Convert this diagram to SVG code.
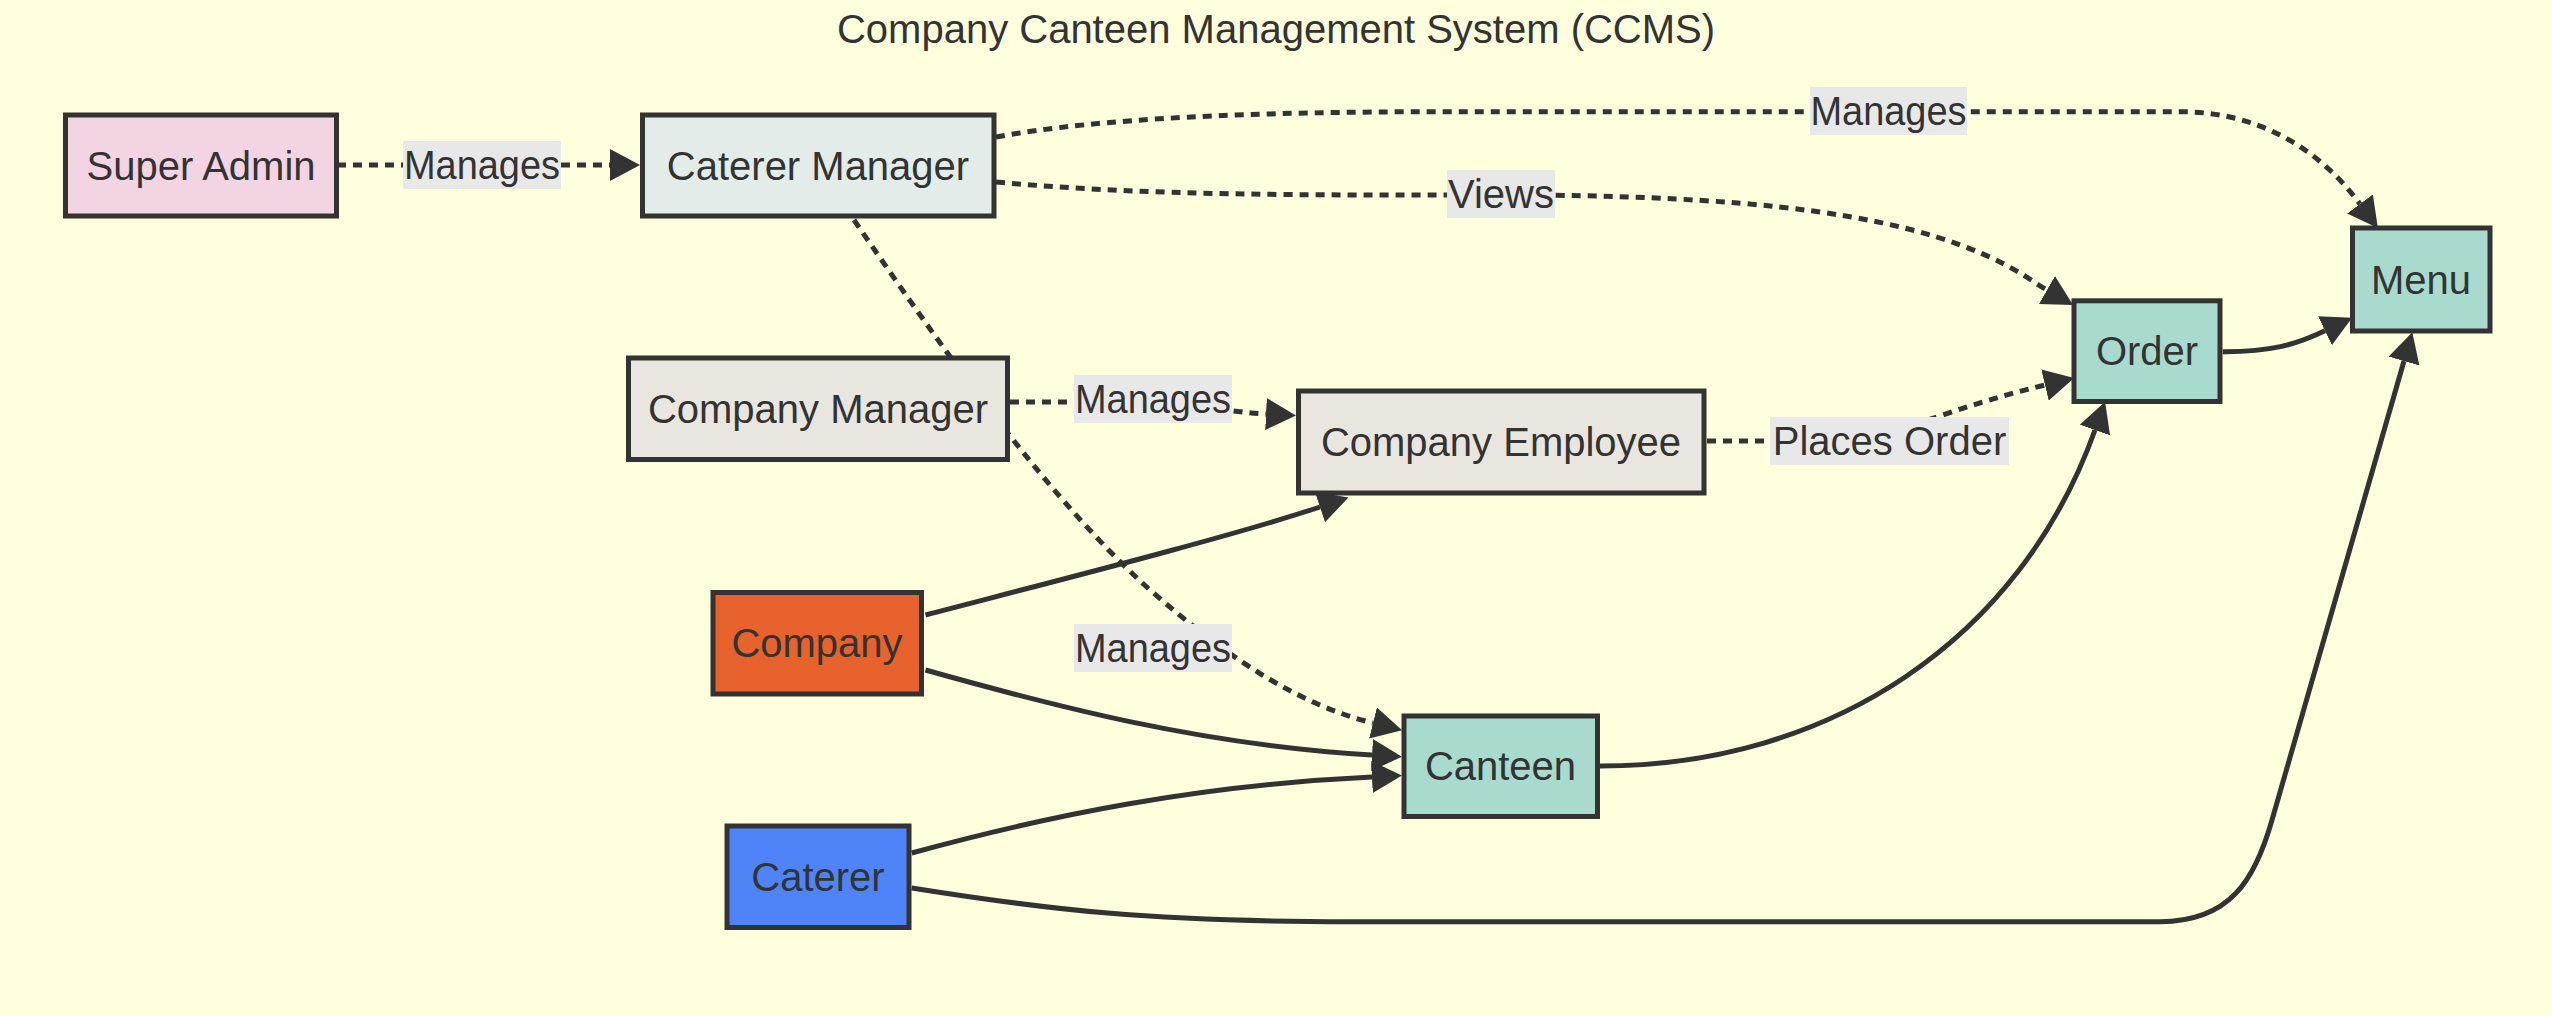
<svg xmlns="http://www.w3.org/2000/svg" width="2552" height="1016" viewBox="0 0 2552 1016">
<style>
  .bg { fill: #FFFFDE; }
  .node rect { stroke: #333333; stroke-width: 5; }
  .node text, .title, .elabel text { font-family: "Liberation Sans", Arial, sans-serif; font-size: 40px; fill: #333333; text-anchor: middle; }
  .edge { fill: none; stroke: #333333; stroke-width: 5; }
  .dotted { stroke-dasharray: 9 7; }
  .elabel rect { fill: #E8E8E8; stroke: none; }
  .arrowhead { fill: #333333; stroke: none; }
</style>
<defs>
  <marker id="arrow" viewBox="0 0 10 10" refX="0" refY="5" markerUnits="userSpaceOnUse" markerWidth="30" markerHeight="32" preserveAspectRatio="none" orient="auto">
    <path class="arrowhead" d="M0,0 L10,5 L0,10 z"/>
  </marker>
</defs>
<rect class="bg" x="0" y="0" width="2552" height="1016"/>
<text class="title" x="1276" y="43">Company Canteen Management System (CCMS)</text>

<g id="connectors">
  <path class="edge dotted" d="M337,165 L610,165" marker-end="url(#arrow)"/>
  <path class="edge dotted" d="M996,137 C1100,118 1250,111.7 1450,111.7 L2180,111.7 C2260,111.7 2320,150 2360,204" marker-end="url(#arrow)"/>
  <path class="edge dotted" d="M996,182 C1150,196 1300,195 1500,195 C1800,195 1950,222 2040,286 L2047,290" marker-end="url(#arrow)"/>
  <path class="edge dotted" d="M854,220 C950,360 1050,500 1150,590 C1230,660 1300,705 1373,723" marker-end="url(#arrow)"/>
  <path class="edge dotted" d="M1010,402 L1120,402 C1190,402 1225,412 1266,414" marker-end="url(#arrow)"/>
  <path class="edge dotted" d="M1707,441 L1830,441 C1890,441 1940,410 2045,385" marker-end="url(#arrow)"/>
  <path class="edge" d="M925.5,615 C1040,585 1230,537 1320,507" marker-end="url(#arrow)"/>
  <path class="edge" d="M925.5,670 C1050,705 1200,745 1372,755" marker-end="url(#arrow)"/>
  <path class="edge" d="M911.7,853 C1050,815 1200,785 1372,777" marker-end="url(#arrow)"/>
  <path class="edge" d="M911.7,888 C1050,910 1150,921.7 1350,921.7 L2160,921.7 C2230,921.7 2255,880 2272,820 L2404,361" marker-end="url(#arrow)"/>
  <path class="edge" d="M1600,766 C1830,766 2020,640 2095,430" marker-end="url(#arrow)"/>
  <path class="edge" d="M2222.7,351.7 C2270,352 2295,345 2325,330.7" marker-end="url(#arrow)"/>
</g>

<g id="edge-labels">
  <g class="elabel"><rect x="403" y="141" width="158" height="48"/><text x="482" y="179" textLength="156" lengthAdjust="spacingAndGlyphs">Manages</text></g>
  <g class="elabel"><rect x="1810" y="87" width="157" height="48"/><text x="1888.5" y="125" textLength="156" lengthAdjust="spacingAndGlyphs">Manages</text></g>
  <g class="elabel"><rect x="1447" y="170" width="108" height="48"/><text x="1501" y="208">Views</text></g>
  <g class="elabel"><rect x="1074" y="375" width="158" height="48"/><text x="1153" y="413" textLength="156" lengthAdjust="spacingAndGlyphs">Manages</text></g>
  <g class="elabel"><rect x="1770" y="417" width="239" height="48"/><text x="1889.5" y="455">Places Order</text></g>
  <g class="elabel"><rect x="1074" y="624" width="158" height="48"/><text x="1153" y="662" textLength="156" lengthAdjust="spacingAndGlyphs">Manages</text></g>
</g>

<g id="node-super-admin" class="node"><rect x="65.5" y="115" width="271" height="101" fill="#F3D4E3"/><text x="201" y="179.5">Super Admin</text></g>
<g id="node-caterer-manager" class="node"><rect x="642.5" y="115" width="351.5" height="101" fill="#E2ECE8"/><text x="818" y="179.5">Caterer Manager</text></g>
<g id="node-company-manager" class="node"><rect x="628.5" y="358" width="379" height="101.5" fill="#E8E6DF"/><text x="818" y="422.5">Company Manager</text></g>
<g id="node-company-employee" class="node"><rect x="1298.5" y="391" width="405.5" height="102" fill="#E8E6DF"/><text x="1501" y="456">Company Employee</text></g>
<g id="node-company" class="node"><rect x="713" y="592.5" width="208.5" height="101.5" fill="#E8622D"/><text x="817" y="657">Company</text></g>
<g id="node-canteen" class="node"><rect x="1404" y="716" width="193.5" height="100.5" fill="#A8DACD"/><text x="1500.5" y="780">Canteen</text></g>
<g id="node-caterer" class="node"><rect x="727" y="826" width="182" height="101.5" fill="#4E84F8"/><text x="818" y="890.5">Caterer</text></g>
<g id="node-order" class="node"><rect x="2074" y="300.8" width="146" height="100.7" fill="#A8DACD"/><text x="2147" y="365">Order</text></g>
<g id="node-menu" class="node"><rect x="2352.5" y="228" width="137.5" height="103" fill="#A8DACD"/><text x="2421" y="293.5">Menu</text></g>
</svg>
